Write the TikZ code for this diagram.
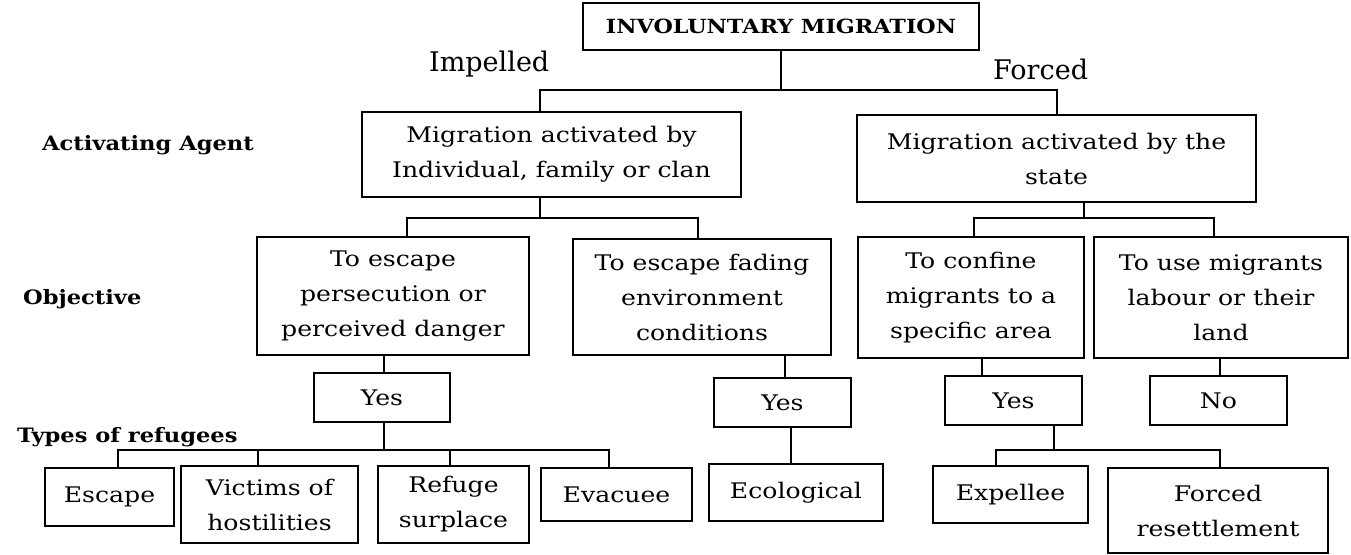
\documentclass[tikz,border=0pt]{standalone}
\usepackage{fontspec}
\newfontfamily\df[FakeStretch=1.17]{DejaVu Serif}
\newfontfamily\dfb[FakeStretch=1.14]{DejaVu Serif Bold}
\newfontfamily\dfn{DejaVu Serif}
\tikzset{
  box/.style={draw=black, line width=1.9pt, inner sep=0pt, align=center,
     font=\df\fontsize{21.5}{35}\selectfont},
  conn/.style={draw=black, line width=1.9pt},
  lbl/.style={inner sep=0pt, anchor=base west, font=\dfb\fontsize{19.8}{22}\selectfont},
  side/.style={inner sep=0pt, anchor=base west, font=\dfn\fontsize{27}{30}\selectfont},
}
\begin{document}
\begin{tikzpicture}[x=1pt,y=-1pt]
\useasboundingbox (0,0) rectangle (1351,554);

% top
\node[box, minimum width=396pt, minimum height=47pt, font=\dfb\fontsize{19.5}{22}\selectfont] (top) at (781,26.5) {INVOLUNTARY MIGRATION};
\node[side] (impelled) at (429,71) {Impelled};
\node[side] (forcedlbl) at (993,79) {Forced};

% level labels
\node[lbl] (lagent) at (42,150) {Activating Agent};
\node[lbl] (lobj) at (23,304) {Objective};
\node[lbl] (ltypes) at (17,442) {Types of refugees};

% level 2
\node[box, minimum width=379pt, minimum height=85pt] (agentL) at (551.5,154.5) {Migration activated by\\Individual, family or clan};
\node[box, minimum width=399pt, minimum height=87pt] (agentR) at (1056.5,158.5) {Migration activated by the\\state};

% level 3
\node[box, minimum width=272pt, minimum height=118pt] (obj1) at (393,296) {To escape\\persecution or\\perceived danger};
\node[box, minimum width=258pt, minimum height=116pt] (obj2) at (702,297) {To escape fading\\environment\\conditions};
\node[box, minimum width=226pt, minimum height=121pt] (obj3) at (971,297.5) {To confine\\migrants to a\\specific area};
\node[box, minimum width=254pt, minimum height=121pt] (obj4) at (1221,297.5) {To use migrants\\labour or their\\land};

% yes / no
\node[box, minimum width=136pt, minimum height=49pt] (yes1) at (382,397.5) {Yes};
\node[box, minimum width=137pt, minimum height=49pt] (yes2) at (782.5,402.5) {Yes};
\node[box, minimum width=137pt, minimum height=49pt] (yes3) at (1013.5,400.5) {Yes};
\node[box, minimum width=137pt, minimum height=49pt] (no) at (1218.5,400.5) {No};

% types
\node[box, minimum width=129pt, minimum height=58pt] (escape) at (109.5,497) {Escape};
\node[box, minimum width=177pt, minimum height=77pt] (victims) at (269.5,504.5) {Victims of\\hostilities};
\node[box, minimum width=151pt, minimum height=77pt] (refuge) at (453.5,504.5) {Refuge\\surplace};
\node[box, minimum width=151pt, minimum height=53pt] (evacuee) at (616.5,494.5) {Evacuee};
\node[box, minimum width=174pt, minimum height=57pt] (ecological) at (796,492.5) {Ecological};
\node[box, minimum width=155pt, minimum height=57pt] (expellee) at (1010.5,494.5) {Expellee};
\node[box, minimum width=220pt, minimum height=85pt] (forced) at (1218,510.5) {Forced\\resettlement};

% junction coordinates
\coordinate (t1) at (540,90);
\coordinate (t2) at (1057,90);
\coordinate (l1) at (407,218);
\coordinate (l2) at (698,218);
\coordinate (r0) at (1084,218);
\coordinate (r1) at (974,218);
\coordinate (r2) at (1214,218);
\coordinate (y3) at (982,366);
\coordinate (n4) at (1220,366);
\coordinate (y1) at (384,364);
\coordinate (y2) at (785,366);
\coordinate (p0) at (384,450);
\coordinate (p1) at (118,450);
\coordinate (p2) at (258,450);
\coordinate (p3) at (450,450);
\coordinate (p4) at (609,450);
\coordinate (q0) at (791,445);
\coordinate (e0) at (1054,450);
\coordinate (e1) at (996,450);
\coordinate (e2) at (1220,450);

% connectors
\draw[conn] (top.south) -- (top.south |- t1);
\draw[conn] (agentL.north -| t1) |- (t2) -- (agentR.north -| t2);

\draw[conn] (agentL.south -| t1) -- (t1 |- l1);
\draw[conn] (obj1.north -| l1) |- (l2) -- (obj2.north -| l2);

\draw[conn] (agentR.south -| r0) -- (r0);
\draw[conn] (obj3.north -| r1) |- (r2) -- (obj4.north -| r2);

\draw[conn] (obj1.south -| y1) -- (yes1.north -| y1);
\draw[conn] (obj2.south -| y2) -- (yes2.north -| y2);
\draw[conn] (obj3.south -| y3) -- (yes3.north -| y3);
\draw[conn] (obj4.south -| n4) -- (no.north -| n4);

\draw[conn] (yes1.south -| p0) -- (p0);
\draw[conn] (escape.north -| p1) |- (p4) -- (evacuee.north -| p4);
\draw[conn] (victims.north -| p2) -- (p2);
\draw[conn] (refuge.north -| p3) -- (p3);

\draw[conn] (yes2.south -| q0) -- (ecological.north -| q0);

\draw[conn] (yes3.south -| e0) -- (e0);
\draw[conn] (expellee.north -| e1) |- (e2) -- (forced.north -| e2);
\end{tikzpicture}
\end{document}
